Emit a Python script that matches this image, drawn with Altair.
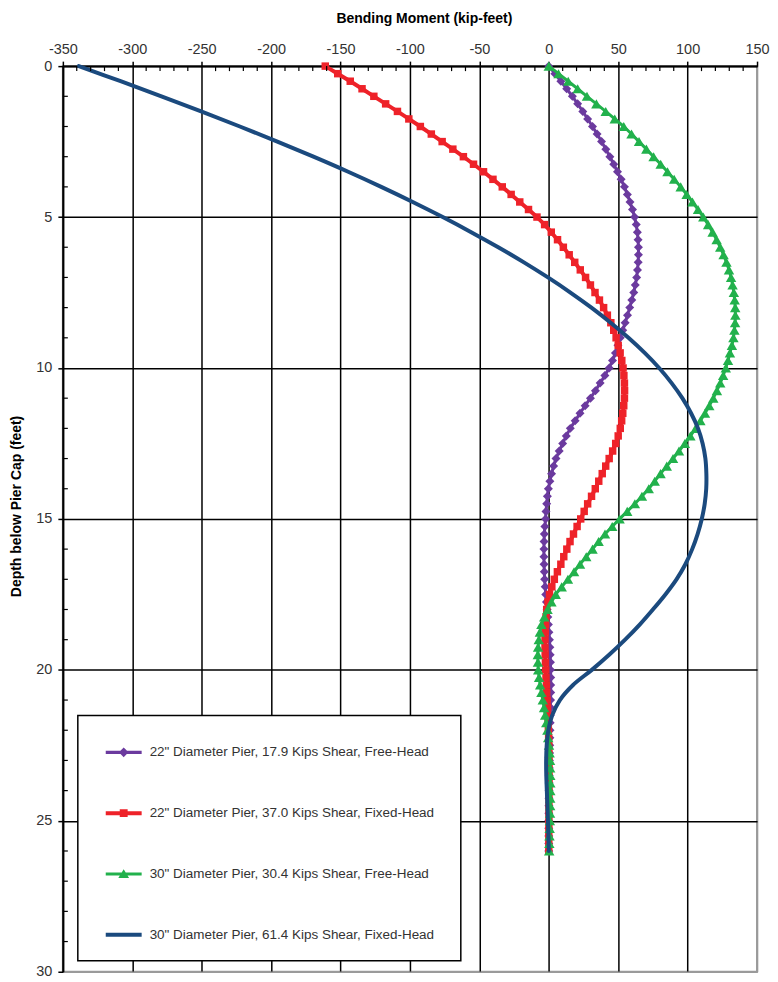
import altair as alt
import pandas as pd

# ---------------- data ----------------
SERIES = [
    '22" Diameter Pier, 17.9 Kips Shear, Free-Head',
    '22" Diameter Pier, 37.0 Kips Shear, Fixed-Head',
    '30" Diameter Pier, 30.4 Kips Shear, Free-Head',
    '30" Diameter Pier, 61.4 Kips Shear, Fixed-Head',
]
COLORS = ["#6B3A9E", "#EE2229", "#22B14C", "#1B4A7E"]

# depth grid (feet below pier cap) at which the series were read
DEPTH_FINE = [i * 0.25 for i in range(105)]      # 0 .. 26 ft
DEPTH_COARSE = [i * 0.5 for i in range(53)]      # 0 .. 26 ft

# bending moment (kip-feet)
M_22_FREE = [
    0.0,
    4.4, 8.7, 12.9, 17.0,
    20.8, 24.5, 28.0, 31.5,
    34.8, 38.0, 41.1, 44.0,
    46.8, 49.5, 52.1, 54.5,
    56.6, 58.5, 60.3, 61.8,
    63.0, 63.8, 64.3, 64.6,
    64.6, 64.4, 63.9, 63.3,
    62.3, 61.2, 59.8, 58.3,
    56.7, 55.0, 53.3, 51.5,
    49.8, 48.0, 45.9, 43.5,
    40.4, 37.0, 33.6, 30.0,
    26.2, 22.5, 19.0, 15.5,
    12.6, 10.0, 7.5, 5.2,
    3.5, 2.0, 0.8, -0.3,
    -1.0, -1.5, -2.0, -2.3,
    -2.8, -3.2, -3.4, -3.5,
    -3.5, -3.4, -3.2, -3.0,
    -2.6, -2.2, -1.7, -1.2,
    -0.7, -0.3, 0.1, 0.5,
    0.8, 1.0, 1.2, 1.3,
    1.4, 1.4, 1.4, 1.3,
    1.2, 1.1, 1.0, 0.9,
    0.8, 0.7, 0.6, 0.5,
    0.4, 0.3, 0.25, 0.2,
    0.15, 0.1, 0.05, 0.0,
    0.0, 0.0, 0.0, 0.0,
]
M_22_FIXED = [
    -161.0,
    -152.0, -143.0, -134.5, -126.0,
    -117.5, -109.0, -100.8, -92.5,
    -84.6, -76.8, -69.1, -61.5,
    -54.2, -47.0, -40.2, -33.5,
    -27.1, -20.9, -14.6, -8.5,
    -3.0, 1.8, 6.3, 10.5,
    14.7, 18.7, 22.7, 26.5,
    30.0, 33.3, 36.5, 39.5,
    42.2, 44.7, 46.8, 48.5,
    50.0, 51.4, 52.6, 53.5,
    54.1, 54.5, 54.6, 54.5,
    54.0, 53.3, 52.5, 51.5,
    50.0, 48.2, 46.0, 43.5,
    41.0, 38.5, 36.0, 33.5,
    30.8, 28.0, 25.5, 23.0,
    20.4, 17.8, 15.3, 13.0,
    10.8, 8.7, 6.2, 4.0,
    2.2, 0.5, -0.6, -1.5,
    -2.0, -2.3, -2.5, -2.7,
    -2.7, -2.6, -2.4, -2.2,
    -2.0, -1.7, -1.5, -1.2,
    -0.9, -0.7, -0.5, -0.3,
    -0.1, 0.0, 0.1, 0.2,
    0.2, 0.2, 0.2, 0.2,
    0.15, 0.1, 0.1, 0.1,
    0.05, 0.0, 0.0, 0.0,
]
M_30_FREE = [
    0.0,
    7.0, 14.0, 20.8, 27.5,
    34.3, 41.0, 47.5, 54.0,
    59.6, 65.0, 70.3, 75.5,
    80.6, 85.5, 90.3, 95.0,
    99.3, 103.5, 107.5, 111.3,
    114.8, 118.0, 120.9, 123.5,
    125.9, 128.0, 129.8, 131.3,
    132.4, 133.3, 133.9, 134.3,
    134.4, 134.2, 133.7, 133.0,
    131.9, 130.5, 129.1, 127.5,
    125.6, 123.5, 121.1, 118.5,
    115.6, 112.5, 109.2, 105.8,
    102.0, 98.0, 93.8, 89.5,
    85.0, 80.5, 76.3, 72.0,
    67.1, 62.0, 56.5, 51.0,
    45.7, 40.5, 35.9, 31.5,
    27.0, 22.5, 18.2, 13.8,
    9.3, 5.0, 1.9, -0.9,
    -3.3, -5.3, -6.4, -7.2,
    -7.7, -7.9, -7.8, -7.6,
    -7.0, -6.2, -5.3, -4.3,
    -3.4, -2.6, -1.8, -1.0,
    -0.4, 0.2, 0.6, 0.9,
    1.0, 1.1, 1.1, 1.1,
    1.05, 1.0, 0.9, 0.8,
    0.65, 0.5, 0.4, 0.3,
]
M_30_FIXED = [
    -338.5, -308.4, -279.0, -250.4, -222.5, -195.5, -169.5, -144.5,
    -120.7, -98.0, -76.4, -55.9, -36.4, -17.9, -0.6, 15.6,
    30.7, 44.6, 57.4, 69.1, 79.5, 88.5, 96.2, 102.5,
    107.5, 110.8, 112.8, 113.5, 113.4, 112.3, 110.2, 107.2,
    103.3, 98.4, 92.0, 84.0, 75.0, 65.5, 55.0, 43.5,
    31.0, 17.5, 8.0, 2.5, -0.3, -1.5, -1.9, -1.8,
    -1.4, -1.0, -0.6, -0.3, 0.0,
]

X_TICKS = list(range(-350, 151, 50))
X_MINOR = [v for v in range(-340, 150, 10) if v % 50 != 0]
Y_TICKS = list(range(0, 31, 5))
Y_MINOR = [v for v in range(1, 30) if v % 5 != 0]

# ---------------- chart ----------------
FONT = "Liberation Sans Narrow, Arial Narrow, Liberation Sans, Arial"

series_data = [
    (M_22_FREE, DEPTH_FINE, "diamond", 81, 3.0),
    (M_22_FIXED, DEPTH_FINE, "square", 56, 4.0),
    (M_30_FREE, DEPTH_FINE, "triangle-up", 110, 3.0),
    (M_30_FIXED, DEPTH_COARSE, None, 0, 4.0),
]

x_scale = alt.Scale(domain=[-350, 150], nice=False, zero=False)
y_scale = alt.Scale(domain=[0, 30], nice=False, zero=False, reverse=True)

x_axis = alt.Axis(
    orient="top", values=X_TICKS, title="Bending Moment (kip-feet)",
    grid=True, gridWidth=1.5,
    gridColor={"condition": {"test": "datum.value >= 150", "value": "#9a9a9a"}, "value": "black"},
    tickSize=5, labelPadding=5, labelExpr="datum.value + ''", labelFlush=False, labelOverlap=False,
    titlePadding=16, titleX=362,
)
y_axis = alt.Axis(
    orient="left", values=Y_TICKS, title="Depth below Pier Cap (feet)",
    grid=True, gridWidth=1.5,
    gridColor={"condition": {"test": "datum.value >= 30", "value": "#9a9a9a"}, "value": "black"},
    tickSize=5, labelPadding=6, labelExpr="datum.value + ''", labelFlush=False, labelOverlap=False,
    titlePadding=12, titleY=441,
)

X = alt.X("moment:Q", scale=x_scale, axis=x_axis)
Y = alt.Y("depth:Q", scale=y_scale, axis=y_axis)

layers = []

for name, color, (moments, depths, shape, size, sw) in zip(SERIES, COLORS, series_data):
    df = pd.DataFrame({"depth": depths, "moment": moments})
    base = alt.Chart(df)
    layers.append(
        base.mark_line(color=color, strokeWidth=sw, strokeJoin="round", strokeCap="round",
                       interpolate="linear" if shape else "catmull-rom").encode(
            x=X, y=Y, order=alt.Order("depth:Q")
        )
    )
    if shape:
        layers.append(
            base.mark_point(shape=shape, size=size, filled=True, color=color, opacity=1, strokeWidth=0).encode(
                x=X, y=Y
            )
        )

# minor ticks (inside the plot)
layers.append(
    alt.Chart(pd.DataFrame({"moment": X_MINOR})).mark_rule(color="black", strokeWidth=1.2).encode(
        x=X, y=alt.value(0), y2=alt.value(5)
    )
)
layers.append(
    alt.Chart(pd.DataFrame({"depth": Y_MINOR})).mark_rule(color="black", strokeWidth=1.2).encode(
        y=Y, x=alt.value(0), x2=alt.value(5)
    )
)

# legend (line + marker symbols as custom paths)
LEGEND_PATHS = [
    "M-1,-0.09L1,-0.09L1,0.09L-1,0.09Z M0,-0.27L0.27,0L0,0.27L-0.27,0Z",
    "M-1,-0.11L1,-0.11L1,0.11L-1,0.11Z M-0.22,-0.22L0.22,-0.22L0.22,0.22L-0.22,0.22Z",
    "M-1,-0.09L1,-0.09L1,0.09L-1,0.09Z M0,-0.27L0.3,0.22L-0.3,0.22Z",
    "M-1,-0.11L1,-0.11L1,0.11L-1,0.11Z",
]
legend_df = pd.DataFrame({
    "series": SERIES,
    "moment": [M_22_FREE[0], M_22_FIXED[0], M_30_FREE[0], M_30_FIXED[0]],
    "depth": [DEPTH_FINE[0], DEPTH_FINE[0], DEPTH_FINE[0], DEPTH_COARSE[0]],
})
PAD = "\u00a0" * 2 + "\u200b"
legend = alt.Legend(
    orient="none", legendX=15, legendY=651, title=None,
    padding=19, symbolOffset=9, labelOffset=8, rowPadding=36,
    symbolSize=1296, symbolStrokeWidth=0, symbolOpacity=1,
    fillColor="white", strokeColor="black",
    labelFont="Liberation Sans, Arial", labelFontSize=13.5, labelColor="#333333",
    labelLimit=600, labelExpr="datum.label + '" + PAD + "'",
)
layers.append(
    alt.Chart(legend_df).mark_point(filled=True, opacity=0).encode(
        x=X, y=Y,
        color=alt.Color("series:N", scale=alt.Scale(domain=SERIES, range=COLORS), legend=legend),
        shape=alt.Shape("series:N", scale=alt.Scale(domain=SERIES, range=LEGEND_PATHS), legend=legend),
    )
)

chart = alt.layer(*layers).properties(
    width=696, height=908,
    autosize=alt.AutoSizeParams(type="none"),
    padding={"left": 55, "top": 57, "right": 13, "bottom": 7},
    background="white",
).configure_view(
    stroke="#9a9a9a", strokeWidth=2
).configure_axis(
    domainColor="black", domainWidth=2, tickColor="black", tickWidth=1.5,
    labelFont=FONT, labelFontSize=14.5, labelColor="#333333",
    titleFont="Liberation Sans, Arial", titleFontSize=14, titleFontWeight="bold", titleColor="black",
).configure_legend(strokeWidth=1.5)

chart.save("out.html", embed_options={"renderer": "svg", "actions": False})
